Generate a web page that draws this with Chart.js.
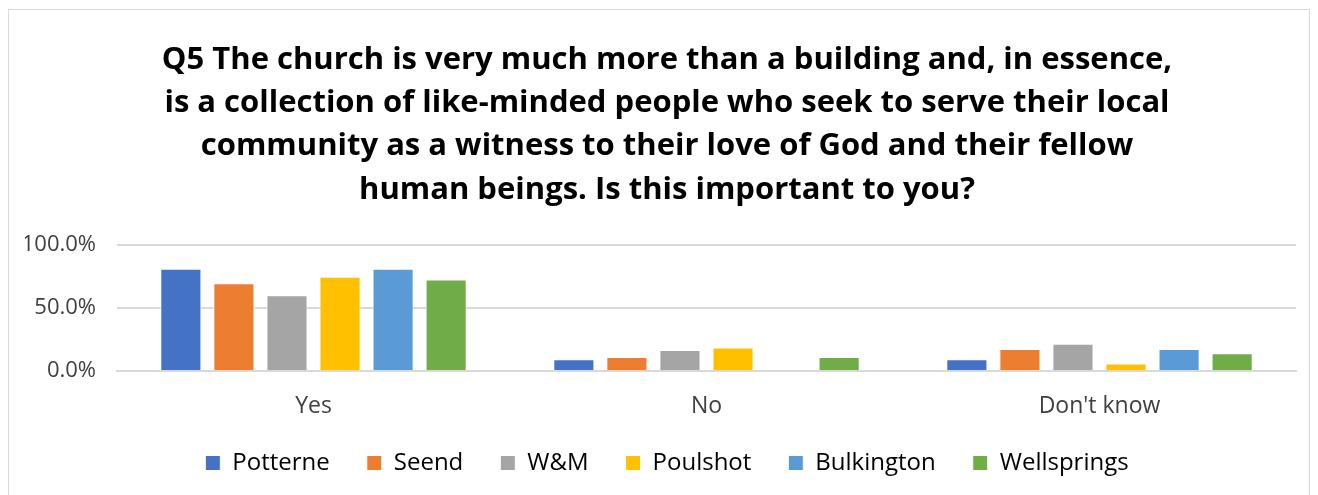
<!DOCTYPE html>
<html>
<head>
<meta charset="utf-8">
<script src="https://cdn.jsdelivr.net/npm/chart.js@4"></script>
<style>
  html, body { margin: 0; padding: 0; background: #fff; }
  .chart-container {
    position: absolute; left: 8px; top: 9px;
    width: 1302px; height: 500px;
    border: 1px solid #d9d9d9; box-sizing: border-box;
  }
</style>
</head>
<body>
<div class="chart-container">
  <canvas id="bar-chart"></canvas>
</div>
<script>
const categories = ['Yes', 'No', "Don't know"];
const seriesNames = ['Potterne', 'Seend', 'W&M', 'Poulshot', 'Bulkington', 'Wellsprings'];
const seriesColors = ['#4472c4', '#ed7d31', '#a5a5a5', '#ffc000', '#5b9bd5', '#70ad47'];
const potterne = [0.808, 0.092, 0.092];
const seend = [0.694, 0.111, 0.174];
const wm = [0.599, 0.166, 0.215];
const poulshot = [0.746, 0.185, 0.060];
const bulkington = [0.808, 0.0, 0.174];
const wellsprings = [0.724, 0.111, 0.141];
const yTicks = [0, 0.5, 1];
const titleLines = [
  'Q5 The church is very much more than a building and, in essence,',
  'is a collection of like-minded people who seek to serve their local',
  'community as a witness to their love of God and their fellow',
  'human beings. Is this important to you?'
];

const values = [potterne, seend, wm, poulshot, bulkington, wellsprings];

const ctx = document.getElementById('bar-chart');
new Chart(ctx, {
  type: 'bar',
  data: {
    labels: categories,
    datasets: seriesNames.map((name, i) => ({
      label: name,
      data: values[i],
      backgroundColor: seriesColors[i],
      borderColor: '#ffffff',
      borderWidth: 1,
      borderSkipped: 'bottom',
      categoryPercentage: 0.81,
      barPercentage: 0.775
    }))
  },
  options: {
    responsive: true,
    maintainAspectRatio: false,
    animation: false,
    layout: { padding: { left: 16, right: 0, top: 28, bottom: 23 } },
    plugins: {
      title: {
        display: true,
        text: titleLines,
        color: '#000000',
        font: { family: 'Open Sans', size: 31, weight: 'bold', lineHeight: 1.4 },
        padding: { top: 0, bottom: 33 }
      },
      legend: {
        position: 'bottom',
        labels: {
          color: '#000000',
          font: { family: 'Open Sans', size: 24 },
          boxWidth: 15,
          boxHeight: 15,
          padding: 37
        }
      },
      tooltip: { enabled: false }
    },
    scales: {
      x: {
        grid: { display: false },
        border: { color: '#d9d9d9', width: 2 },
        afterFit: axis => { axis.height = 43; },
        ticks: { color: '#404040', font: { family: 'Open Sans', size: 23 }, padding: 14 }
      },
      y: {
        min: 0,
        max: 1,
        afterBuildTicks: axis => { axis.ticks = yTicks.map(v => ({ value: v })); },
        afterFit: axis => { axis.width = 92; },
        grid: { color: '#d9d9d9', lineWidth: 2, drawTicks: false },
        border: { display: false },
        ticks: {
          color: '#404040',
          font: { family: 'Open Sans', size: 22 },
          padding: 21,
          callback: v => (v * 100).toFixed(1) + '%'
        }
      },
      // empty right-hand spacer so the plot ends where the reference's does
      spacer: {
        type: 'linear',
        position: 'right',
        grid: { display: false },
        border: { display: false },
        ticks: { display: false },
        afterFit: axis => { axis.width = 13; }
      }
    }
  }
});
</script>
</body>
</html>
